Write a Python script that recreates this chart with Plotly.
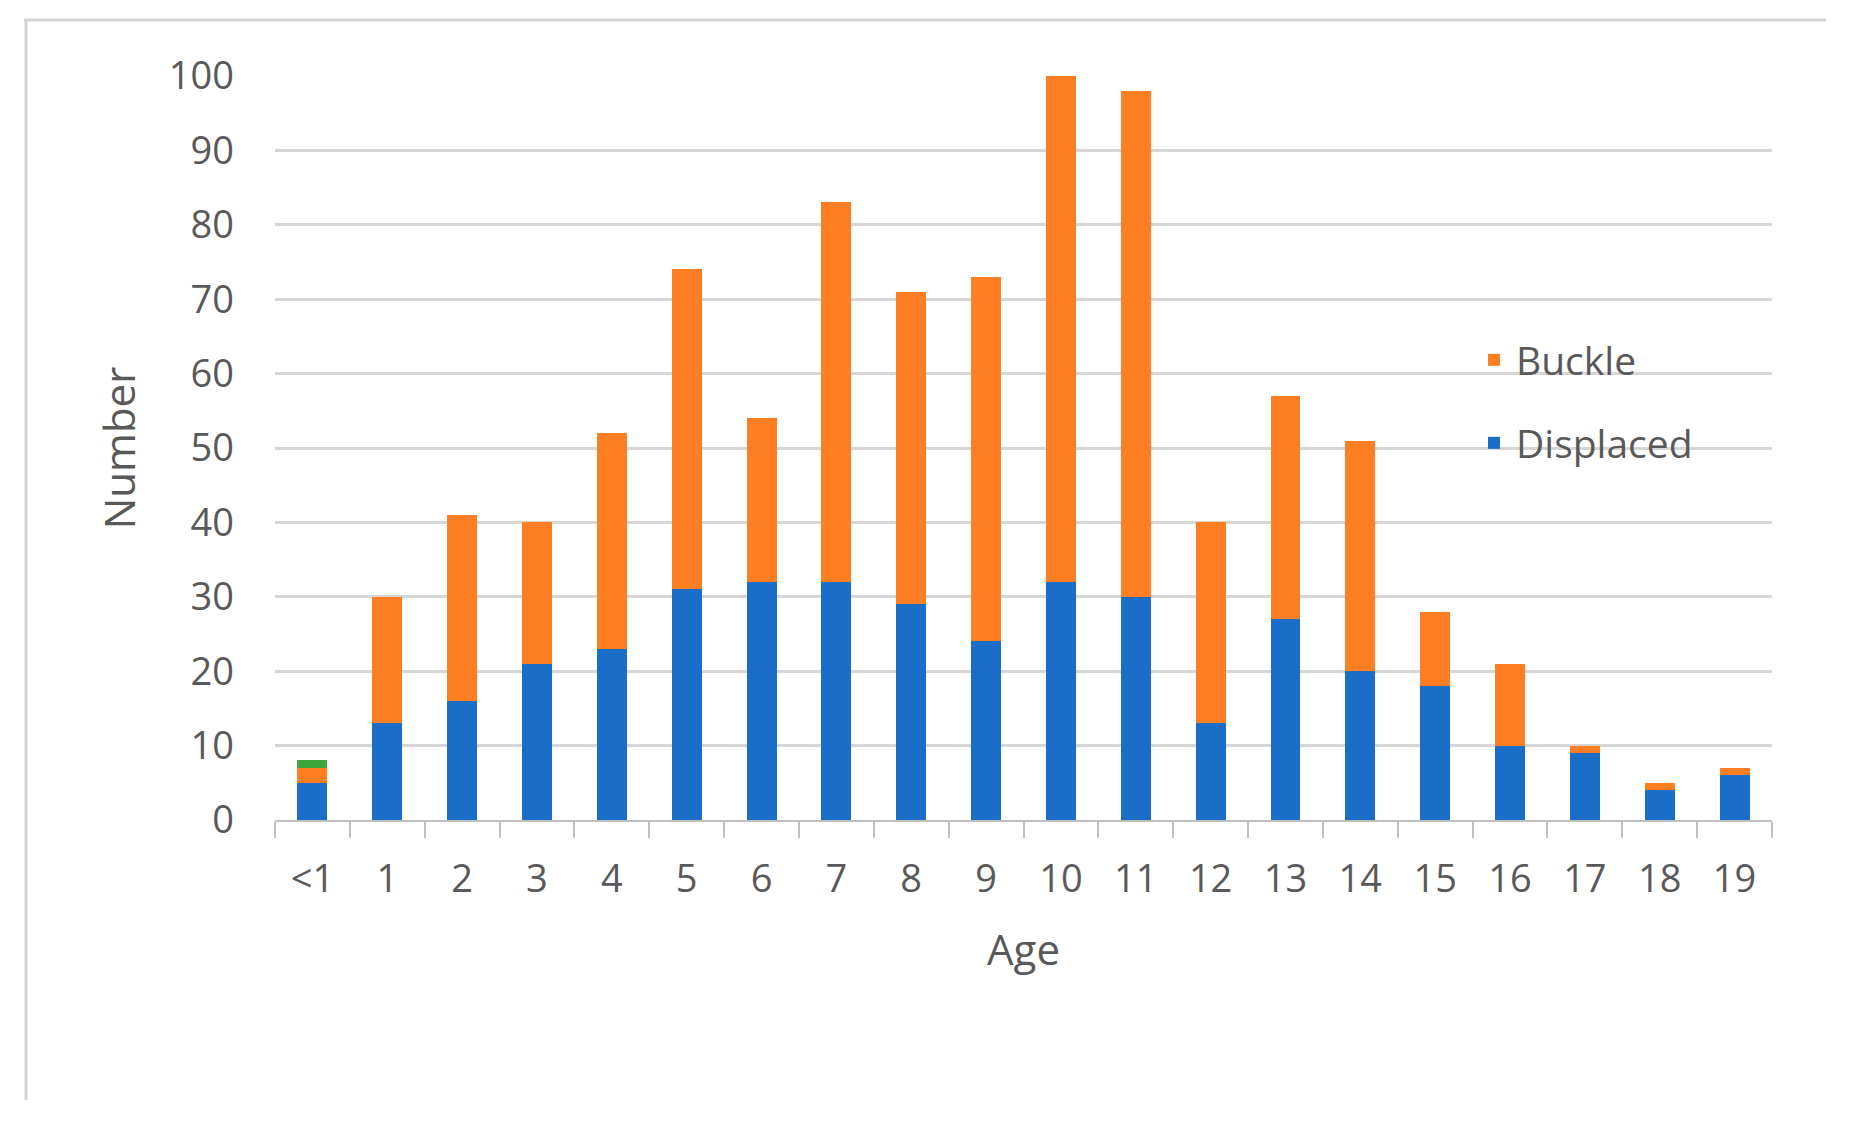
import plotly.graph_objects as go

ages = ["<1", "1", "2", "3", "4", "5", "6", "7", "8", "9", "10", "11", "12", "13", "14", "15", "16", "17", "18", "19"]
displaced = [5, 13, 16, 21, 23, 31, 32, 32, 29, 24, 32, 30, 13, 27, 20, 18, 10, 9, 4, 6]
buckle = [2, 17, 25, 19, 29, 43, 22, 51, 42, 49, 68, 68, 27, 30, 31, 10, 11, 1, 1, 1]
other = [1, 0, 0, 0, 0, 0, 0, 0, 0, 0, 0, 0, 0, 0, 0, 0, 0, 0, 0, 0]

BLUE = "#1a6ec8"
ORANGE = "#fd7e23"
GREEN = "#3ca63a"
GRAY = "#595959"
FONT = "Open Sans"

fig = go.Figure()
fig.add_trace(go.Bar(x=ages, y=displaced, name="Displaced", marker=dict(color=BLUE, line=dict(width=0)), legend="legend2"))
fig.add_trace(go.Bar(x=ages, y=buckle, name="Buckle", marker=dict(color=ORANGE, line=dict(width=0)), legend="legend"))
fig.add_trace(go.Bar(x=ages, y=other, name="Other", marker=dict(color=GREEN, line=dict(width=0)), showlegend=False))

W, H = 1860, 1130
OFF = 8  # page body margin
L, R, T, B = 267, 96, 68, 318
pw, ph = W - L - R, H - T - B

def px(x):
    return (x - OFF - L) / pw

def py(y):
    return (H - B - (y - OFF)) / ph

fig.update_layout(
    width=W, height=H,
    margin=dict(l=L, r=R, t=T, b=B),
    paper_bgcolor="white", plot_bgcolor="white",
    barmode="stack", bargap=0.6,
    font=dict(family=FONT, color=GRAY, size=36),
    showlegend=True,
    legend=dict(x=px(1472), y=py(360), xanchor="left", yanchor="middle",
                font=dict(size=39, color=GRAY), bgcolor="rgba(0,0,0,0)", itemwidth=34),
    legend2=dict(x=px(1472), y=py(443), xanchor="left", yanchor="middle",
                 font=dict(size=39, color=GRAY), bgcolor="rgba(0,0,0,0)", itemwidth=34),
    xaxis=dict(
        type="category", tickson="boundaries", ticks="outside", ticklen=16, tickwidth=2,
        tickcolor="#bfbfbf", showline=True, linecolor="#bfbfbf", linewidth=2,
        showgrid=False, tickfont=dict(size=38, color=GRAY), ticklabelstandoff=24,
        title=dict(text="Age", font=dict(size=42, color=GRAY), standoff=34),
    ),
    yaxis=dict(
        range=[0, 100], dtick=10, showgrid=True, gridcolor="#d6d6d6", gridwidth=2.5,
        zeroline=False, showline=False, ticks="", ticklabelstandoff=40,
        tickfont=dict(size=38, color=GRAY),
        title=dict(text="Number", font=dict(size=42, color=GRAY), standoff=20),
    ),
    shapes=[
        dict(type="line", xref="paper", yref="paper", x0=px(24), x1=px(1826), y0=py(20), y1=py(20),
             line=dict(color="#d4d4d4", width=3)),
        dict(type="line", xref="paper", yref="paper", x0=px(26), x1=px(26), y0=py(20), y1=py(1100),
             line=dict(color="#d4d4d4", width=3)),
    ],
)

fig.write_html("out.html")
